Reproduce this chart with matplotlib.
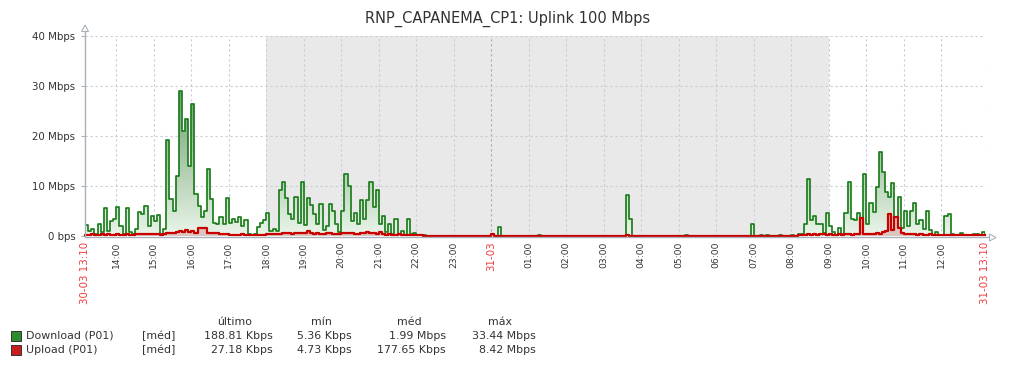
import numpy as np
import matplotlib
matplotlib.use("Agg")
import matplotlib.pyplot as plt
from matplotlib.colors import LinearSegmentedColormap
from matplotlib.patches import PathPatch, Rectangle, Polygon

# ---------------- data (Mbps, 5-minute samples from 30-03 13:10) ----------------
download_afternoon = [2.2, 1.0, 1.5, 0.5, 2.4, 0.8, 5.6, 1.0, 3.0, 3.5,
                      5.8, 2.0, 0.5, 5.6, 0.8, 0.5, 1.5, 4.8, 4.5, 6.0,
                      2.0, 4.0, 3.0, 4.2, 0.5, 1.5, 19.2, 7.5, 5.0, 12.0,
                      29.0, 21.0, 23.5, 14.0, 26.5, 8.5, 6.0, 3.8, 5.0, 13.5,
                      7.5, 2.6, 2.5, 3.8, 2.5, 7.6, 2.6, 3.4, 2.8, 3.8,
                      2.0, 3.2, 0.5, 0.3, 0.4, 1.8, 2.6, 3.3, 4.6, 1.0,
                      1.5, 1.0, 9.2, 10.8, 7.6]
download_evening = [4.5, 3.5, 7.8, 2.6, 10.8, 2.2, 7.6, 6.2, 4.5, 2.5,
                    6.5, 1.2, 2.0, 6.5, 5.0, 2.5, 0.8, 5.0, 12.4, 10.0,
                    3.0, 4.6, 2.5, 7.2, 3.5, 7.2, 10.8, 5.8, 9.2, 2.5,
                    4.0, 0.8, 2.5, 0.5, 3.4, 0.3, 1.0, 0.3, 3.5, 0.4,
                    0.6, 0.2]
download_night = [0.3, 0.2, 0.1, 0.1, 0.05, 0.05, 0.05, 0.05, 0.05, 0.05,
                  0.05, 0.05, 0.05, 0.05, 0.05, 0.05, 0.05, 0.05, 0.05, 0.05,
                  0.05, 0.05, 0.05, 0.05, 0.05, 1.8, 0.05, 0.05, 0.05, 0.05,
                  0.05, 0.05, 0.05, 0.05, 0.05, 0.05, 0.05, 0.05, 0.2, 0.05,
                  0.05, 0.05, 0.05, 0.05, 0.05, 0.05, 0.05, 0.05, 0.05, 0.05,
                  0.05, 0.05, 0.05, 0.05, 0.05, 0.05, 0.05, 0.05, 0.05, 0.05,
                  0.05, 0.05, 0.05, 0.05, 0.05, 0.05, 8.2, 3.5, 0.05, 0.05,
                  0.05, 0.05, 0.05, 0.05, 0.05, 0.05, 0.05, 0.05, 0.05, 0.05,
                  0.05, 0.05, 0.05, 0.05, 0.05, 0.2, 0.05, 0.05, 0.05, 0.05,
                  0.05, 0.05, 0.05, 0.05, 0.05, 0.05, 0.05, 0.05, 0.05, 0.05,
                  0.05, 0.05, 0.05, 0.05, 0.05, 0.05, 2.4, 0.05, 0.05, 0.3,
                  0.05, 0.3, 0.05, 0.05, 0.05, 0.3, 0.05, 0.05, 0.1, 0.2]
download_morning = [0.1, 0.5, 0.5, 2.5, 11.5, 3.2, 4.0, 2.5, 2.5, 0.6,
                    4.6, 2.0, 0.8, 0.2, 1.6, 0.5, 4.6, 10.8, 3.5, 3.2,
                    4.6, 2.8, 12.4, 2.5, 6.6, 4.8, 9.8, 16.8, 12.8, 8.8,
                    7.8, 10.6, 3.6, 7.8, 1.6, 5.0, 2.0, 5.0, 6.6, 2.5,
                    3.3, 1.5, 5.0, 1.2, 0.3, 0.8, 0.3, 0.2, 4.0, 4.5,
                    0.4, 0.2, 0.2, 0.6, 0.2, 0.2, 0.2, 0.5, 0.5, 0.3,
                    0.9, 0.2]

upload_afternoon = [0.3, 0.3, 0.4, 0.3, 0.3, 0.5, 0.3, 0.4, 0.3, 0.3,
                    0.4, 0.3, 0.3, 0.4, 0.3, 0.3, 0.5, 0.4, 0.4, 0.5,
                    0.4, 0.4, 0.5, 0.4, 0.3, 0.4,
                    0.6, 0.7, 0.6, 0.9, 1.1, 0.9, 1.2, 0.8, 1.0, 0.7,
                    1.7, 1.7, 1.7, 0.7, 0.7,
                    0.7, 0.6, 0.5, 0.4, 0.4, 0.3, 0.3, 0.3, 0.3, 0.4,
                    0.3, 0.3, 0.2, 0.2, 0.2, 0.3, 0.3, 0.4, 0.5, 0.4,
                    0.5, 0.5, 0.6, 0.6]
upload_evening = [0.6, 0.5, 0.6, 0.7, 0.6, 0.7, 1.1, 0.6, 0.5, 0.6,
                  0.5, 0.5, 0.6, 0.6, 0.5, 0.4, 0.5, 0.6, 0.7, 0.6,
                  0.6, 0.5, 0.5, 0.6, 0.7, 0.9, 0.6, 0.6, 0.5, 0.8,
                  0.4, 0.3, 0.4, 0.3, 0.3, 0.4, 0.3, 0.2, 0.3, 0.2,
                  0.2, 0.2]
upload_night = [0.15, 0.1, 0.1, 0.05, 0.05, 0.05, 0.05, 0.05, 0.05, 0.05,
                0.05, 0.05, 0.05, 0.05, 0.05, 0.05, 0.05, 0.05, 0.05, 0.05,
                0.05, 0.05, 0.05, 0.4, 0.05, 0.05, 0.05, 0.05, 0.05, 0.05,
                0.05, 0.05, 0.05, 0.05, 0.05, 0.05, 0.05, 0.05, 0.05, 0.05,
                0.05, 0.05, 0.05, 0.05, 0.05, 0.05, 0.05, 0.05, 0.05, 0.05,
                0.05, 0.05, 0.05, 0.05, 0.05, 0.05, 0.05, 0.05, 0.05, 0.05,
                0.05, 0.05, 0.05, 0.05, 0.05, 0.05, 0.3, 0.05, 0.05, 0.05,
                0.05, 0.05, 0.05, 0.05, 0.05, 0.05, 0.05, 0.05, 0.05, 0.05,
                0.05, 0.05, 0.05, 0.05, 0.05, 0.05, 0.05, 0.05, 0.05, 0.05,
                0.05, 0.05, 0.05, 0.05, 0.05, 0.05, 0.05, 0.05, 0.05, 0.05,
                0.05, 0.05, 0.05, 0.05, 0.05, 0.05, 0.05, 0.05, 0.05, 0.05,
                0.05, 0.05, 0.05, 0.05, 0.05, 0.05, 0.05, 0.05, 0.1, 0.1]
upload_morning = [0.1, 0.2, 0.3, 0.3,
                  0.4, 0.3, 0.4, 0.3, 0.5, 0.4, 0.3, 0.4, 0.3, 0.3,
                  0.4, 0.3, 0.5, 0.4, 0.3, 0.5, 0.4,
                  3.6,
                  0.4, 0.5, 0.4, 0.5, 0.6, 0.5, 0.8, 1.0,
                  4.5, 1.2, 3.9,
                  1.7, 0.6, 0.5, 0.4, 0.5, 0.4, 0.3, 0.4, 0.3, 0.3,
                  0.4, 0.3, 0.2, 0.3, 0.2, 0.2, 0.3, 0.2, 0.2, 0.2,
                  0.2, 0.2, 0.3, 0.2, 0.2, 0.2, 0.2, 0.3, 0.2]

download = np.array(download_afternoon + download_evening + download_night + download_morning)
upload = np.array(upload_afternoon + upload_evening + upload_night + upload_morning)

total_minutes = 1440
hour_ticks_min = [50 + 60 * k for k in range(23)]
hour_labels = ["14:00", "15:00", "16:00", "17:00", "18:00", "19:00", "20:00",
               "21:00", "22:00", "23:00", "31-03", "01:00", "02:00", "03:00",
               "04:00", "05:00", "06:00", "07:00", "08:00", "09:00", "10:00",
               "11:00", "12:00"]
start_label = "30-03 13:10"
end_label = "31-03 13:10"
y_ticks = [0, 10, 20, 30, 40]
y_labels = ["0 bps", "10 Mbps", "20 Mbps", "30 Mbps", "40 Mbps"]
night_start, night_end = 290, 1190   # 18:00 .. 09:00

title = "RNP_CAPANEMA_CP1: Uplink 100 Mbps"
legend_header = ["último", "mín", "méd", "máx"]
series_names = ["Download (P01)", "Upload (P01)"]
download_stats = ["188.81 Kbps", "5.36 Kbps", "1.99 Mbps", "33.44 Mbps"]
upload_stats = ["27.18 Kbps", "4.73 Kbps", "177.65 Kbps", "8.42 Mbps"]

# ---------------- figure ----------------
W, H = 1016, 368
fig = plt.figure(figsize=(W / 100, H / 100), dpi=100)
fig.patch.set_facecolor("white")

def fx(px):
    return px / W

def fy(py):
    return 1 - py / H

ax = fig.add_axes([fx(85), fy(236), fx(900), 200 / H])
ax.set_facecolor("white")

t = np.linspace(0, total_minutes, len(download))
tu = np.linspace(0, total_minutes, len(upload))

ax.axvspan(night_start, night_end, color="#e9e9e9", zorder=0, lw=0)

grid_c = "#c5cdd5"
for m in hour_ticks_min:
    c = "#a9a9a9" if m == 650 else grid_c
    ax.axvline(m, color=c, lw=0.8, ls=(0, (2, 2.5)), zorder=1)
ax.axvline(total_minutes, color=grid_c, lw=0.8, ls=(0, (2, 2.5)), zorder=1)
for yv in y_ticks[1:]:
    ax.axhline(yv, color=grid_c, lw=0.8, ls=(0, (2, 2.5)), zorder=1)

# green gradient fill
poly = ax.fill_between(t, download, step="post", facecolor="none", edgecolor="none")
path = poly.get_paths()[0]
patch = PathPatch(path, transform=ax.transData, facecolor="none", edgecolor="none")
ax.add_patch(patch)
cmap = LinearSegmentedColormap.from_list("g", ["#eaf5ea", "#3f7f3f"])
grad = np.linspace(0, 1, 256).reshape(-1, 1)
im = ax.imshow(grad, extent=[0, total_minutes, 0, 40], origin="lower", aspect="auto",
               cmap=cmap, zorder=2, interpolation="bilinear")
im.set_clip_path(patch)

ax.step(t, download, where="post", color="#1c7e1c", lw=1.25, zorder=3)

ax.fill_between(tu, upload, step="post", facecolor="#dcc4bf", edgecolor="none", zorder=4)
ax.step(tu, upload, where="post", color="#c80000", lw=1.6, zorder=5, clip_on=False)

ax.set_xlim(0, total_minutes)
ax.set_ylim(0, 40)

for s in ["top", "right", "left", "bottom"]:
    ax.spines[s].set_visible(False)

ax.set_yticks(y_ticks)
ax.set_yticklabels(y_labels)
ax.tick_params(axis="y", length=3, width=0.8, color="#a8b0b8", labelsize=7.4,
               labelcolor="#333333", pad=4)

ax.set_xticks([0] + hour_ticks_min + [total_minutes])
ax.set_xticklabels([start_label] + hour_labels + [end_label], rotation=90)
ax.tick_params(axis="x", length=0, pad=4)
for lbl in ax.get_xticklabels():
    txt = lbl.get_text()
    if "-" in txt:
        lbl.set_color("#f03c3c")
        lbl.set_fontsize(7.4)
    else:
        lbl.set_color("#333333")
        lbl.set_fontsize(6.6)

# axes lines with arrows (figure pixel coords)
axis_c = "#a8b0b8"
fig.add_artist(plt.Line2D([fx(85), fx(85)], [fy(236.5), fy(31)], color=axis_c, lw=1.0))
fig.add_artist(plt.Line2D([fx(85), fx(989)], [fy(237.5), fy(237.5)], color=axis_c, lw=1.0))
fig.add_artist(Polygon([[fx(81.5), fy(31.5)], [fx(88.5), fy(31.5)], [fx(85), fy(25)]],
                       closed=True, facecolor="white", edgecolor=axis_c, lw=0.8))
fig.add_artist(Polygon([[fx(989.5), fy(234)], [fx(989.5), fy(241)], [fx(996), fy(237.5)]],
                       closed=True, facecolor="white", edgecolor=axis_c, lw=0.8))

fig.text(fx(508), fy(19), title, ha="center", va="center", fontsize=10.5, color="#333333")

# legend
lg_fs = 7.9
tc = "#333333"
header_x = [235, 321, 409, 500]
for hx, h in zip(header_x, legend_header):
    fig.text(fx(hx), fy(322), h, ha="center", va="center", fontsize=lg_fs, color=tc)
val_right = [273, 352, 446, 536]
colors = ["#2e8b2e", "#c81e1e"]
rows_y = [336, 350]
for name, stats, col, ry in zip(series_names, [download_stats, upload_stats], colors, rows_y):
    fig.add_artist(Rectangle((fx(10.5), fy(ry + 5)), 10 / W, 10 / H, facecolor=col,
                             edgecolor="#333333", lw=0.7))
    fig.text(fx(26), fy(ry), name, ha="left", va="center", fontsize=lg_fs, color=tc)
    fig.text(fx(142), fy(ry), "[méd]", ha="left", va="center", fontsize=lg_fs, color=tc)
    for vx, v in zip(val_right, stats):
        fig.text(fx(vx), fy(ry), v, ha="right", va="center", fontsize=lg_fs, color=tc)

fig.savefig("out.png", dpi=100, facecolor="white")
